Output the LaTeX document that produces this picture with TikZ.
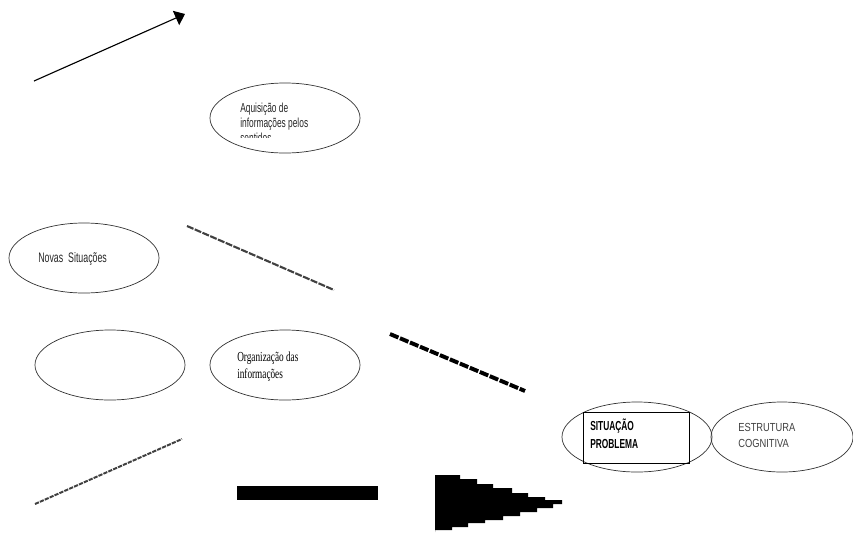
\documentclass[tikz,border=0pt]{standalone}
\usepackage{fontspec}
\setmainfont{Liberation Serif}
\setsansfont{Liberation Sans}
\usetikzlibrary{shapes.geometric,arrows.meta,positioning}

\newfontfamily\narrowsans[FakeStretch=0.64]{Liberation Sans}
\newfontfamily\narrowserif[FakeStretch=0.67]{Liberation Serif}
\newfontfamily\halfsans[FakeStretch=0.8]{Liberation Sans}

\begin{document}
\begin{tikzpicture}[x=0.025cm,y=-0.025cm,
    balloon/.style={ellipse,draw=black!80,line width=0.5pt,minimum width=3.75cm,minimum height=1.75cm,inner sep=0pt},
    label/.style={anchor=west,align=left,inner sep=0pt,text=black!85,font=\narrowsans\fontsize{9.3}{10.7}\selectfont},
    serlabel/.style={anchor=west,align=left,inner sep=0pt,font=\narrowserif\fontsize{9.8}{12}\selectfont},
    thinstep/.style={line width=1.4pt,dash pattern=on 3pt off 0.8pt,black!75},
    midstep/.style={line width=1.5pt,dash pattern=on 5pt off 1pt,black!75},
    boldstep/.style={line width=2.8pt,dash pattern=on 6.5pt off 1.2pt}]
  \useasboundingbox (0,0) rectangle (853,533);

  % top arrow
  \coordinate (a1) at (34,81);
  \coordinate (a2) at (185,14);
  \draw[line width=0.8pt,-{Triangle[length=7pt,width=11pt]}] (a1) -- (a2);

  % ellipses
  \node[balloon] (aq) at (285,118) {};
  \node[balloon] (ns) at (84,258) {};
  \node[balloon] (vz) at (110,365) {};
  \node[balloon] (og) at (285,365) {};
  \node[balloon] (sp) at (637,437) {};
  \node[balloon,minimum width=3.55cm] (ec) at (782,437) {};

  % texts
  \begin{scope}
    \clip (200,90) rectangle (370,137);
    \node[label] (aqt) at (240,123) {Aquisição de\\informações pelos\\sentidos};
  \end{scope}
  \node[label,font=\narrowsans\fontsize{9.8}{11}\selectfont] (nst) at (38,259) {Novas\ \ Situações};
  \node[serlabel] (ogt) at (237,366.5) {Organização das\\informações};
  \node[draw,line width=0.5pt,minimum width=2.65cm,minimum height=1.275cm] (box) at (636,437.5) {};
  \node[label,text=black,font=\narrowsans\bfseries\fontsize{9.3}{12.8}\selectfont] (spt) at (590,434) {SITUAÇÃO\\PROBLEMA};
  \node[label,text=black!75,font=\halfsans\fontsize{8.3}{11.4}\selectfont] (ect) at (738,435) {ESTRUTURA\\COGNITIVA};

  % stepped lines
  \coordinate (b1) at (187,226);
  \coordinate (b2) at (334,290);
  \draw[midstep] (b1) -- (b2);
  \coordinate (c1) at (390,334);
  \coordinate (c2) at (525,391);
  \draw[boldstep] (c1) -- (c2);
  \coordinate (d1) at (35,504);
  \coordinate (d2) at (182,439);
  \draw[thinstep] (d1) -- (d2);

  % black bar and stepped wedge
  \fill (237,486) rectangle (378,500);
  \fill (435,475) -- (460,475) |- (477,479) |- (493,484) |- (512,488) |- (528,493)
    |- (545,497) |- (562,500) -- (562,504) -| (553,508) -| (537,512) -| (520,516)
    -| (503,520) -| (485,523) -| (468,527) -| (452,530) -| (435,532) -- cycle;
\end{tikzpicture}
\end{document}
